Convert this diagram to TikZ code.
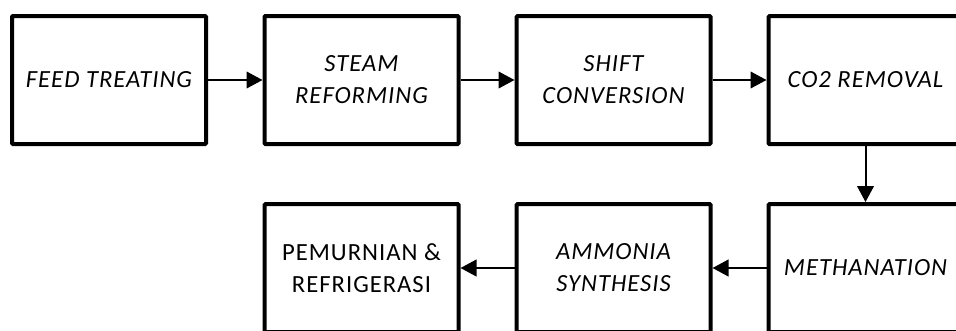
\documentclass[tikz,border=0pt]{standalone}
\usepackage{fontspec}
\setmainfont{Carlito}[LetterSpace=4]
\usetikzlibrary{arrows.meta}
\begin{document}
\begin{tikzpicture}[x=0.75pt,y=-0.75pt,
  procbox/.style={draw=black, line width=3pt, rounded corners=0.8pt, minimum width=145.5pt, minimum height=96pt, inner sep=0pt, align=center, font=\fontsize{18.5}{24}\selectfont\itshape},
  plainbox/.style={procbox, font=\fontsize{18.5}{24}\selectfont},
  flow/.style={line width=1.5pt, -{Triangle[length=12pt,width=12.5pt]}}]
\useasboundingbox (0,0) rectangle (956,330);
\clip (0,0) rectangle (956,330);
\node[procbox] (feed) at (109,80) {FEED TREATING};
\node[procbox] (steam) at (361.5,80) {STEAM\\REFORMING};
\node[procbox] (shift) at (613.5,80) {SHIFT\\CONVERSION};
\node[procbox] (co2) at (865.5,80) {CO2 REMOVAL};
\node[procbox] (meth) at (865.5,268) {METHANATION};
\node[procbox] (amm) at (613.5,268) {AMMONIA\\SYNTHESIS};
\node[plainbox] (pem) at (361.5,268) {PEMURNIAN \&\\REFRIGERASI};
\draw[flow] (feed.east) -- (steam.west);
\draw[flow] (steam.east) -- (shift.west);
\draw[flow] (shift.east) -- (co2.west);
\draw[flow] (co2.south) -- (meth.north);
\draw[flow] (meth.west) -- (amm.east);
\draw[flow] (amm.west) -- (pem.east);
\end{tikzpicture}
\end{document}
